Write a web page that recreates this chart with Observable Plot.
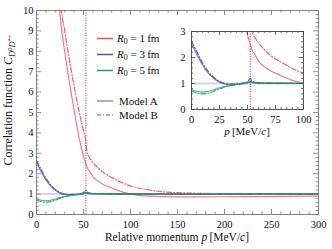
<!DOCTYPE html>
<html><head><meta charset="utf-8">
<script src="https://cdn.jsdelivr.net/npm/d3@7"></script>
<script src="https://cdn.jsdelivr.net/npm/@observablehq/plot@0.6"></script>
<style>
body{margin:0;background:#fff}
#wrap{position:relative;width:332px;height:249px;font-family:"Liberation Serif",serif}
#wrap svg{position:absolute;overflow:visible}
</style>
</head><body><div id="wrap"></div>
<script>
// ---- data ----
const threshold = 52.5;
const momentum = [0,5,10,15,20,25,30,35,40,45,48,50,52.5,54,57,60,65,70,80,90,100,120,150,200,250,300];
const r1ModelA = [80,55,35,21,13.5,9.8,8.0,6.5,5.1,3.85,3.2,2.85,2.5,2.3,2.08,1.85,1.65,1.5,1.3,1.12,1.0,0.9,0.86,0.87,0.88,0.9];
const r1ModelB = [90,60,38,23,14.5,10.6,9.0,7.6,6.3,5.1,4.5,4.1,3.6,3.0,2.75,2.55,2.3,2.1,1.82,1.58,1.4,1.2,1.07,1.02,1.0,0.99];
const r3ModelA = [2.52,2.1,1.7,1.4,1.19,1.05,0.98,0.96,0.97,0.99,1.01,1.03,1.1,1.04,1.02,1.01,1.01,1.0,1.0,1.0,1.0,1.0,1.0,1.0,1.0,1.0];
const r3ModelB = [2.62,2.2,1.78,1.46,1.23,1.08,1.0,0.98,0.99,1.01,1.04,1.07,1.2,1.1,1.05,1.03,1.02,1.02,1.01,1.0,1.0,1.0,1.0,1.0,1.0,1.0];
const r5ModelA = [0.77,0.7,0.67,0.7,0.76,0.83,0.89,0.93,0.96,0.99,1.0,1.02,1.05,1.03,1.02,1.02,1.02,1.02,1.02,1.02,1.02,1.02,1.01,1.01,1.01,1.01];
const r5ModelB = [0.72,0.63,0.6,0.63,0.7,0.79,0.87,0.92,0.96,0.99,1.01,1.03,1.08,1.04,1.03,1.02,1.02,1.02,1.02,1.01,1.01,1.01,1.01,1.01,1.01,1.01];
const radii = [1,3,5];
const radiusColors = ["#ef4f5a","#4f4fa8","#1f9f5f"];
const models = ["Model A","Model B"];
const mainXTicks = [0,50,100,150,200,250,300];
const mainYTicks = [0,1,2,3,4,5,6,7,8,9,10];
const insetXTicks = [0,25,50,75,100];
const insetYTicks = [0,1,2,3];

const seriesList = [
  {R:1, model:"A", values:r1ModelA},{R:1, model:"B", values:r1ModelB},
  {R:3, model:"A", values:r3ModelA},{R:3, model:"B", values:r3ModelB},
  {R:5, model:"A", values:r5ModelA},{R:5, model:"B", values:r5ModelB}
];
const rows = seriesList.flatMap(s => momentum.map((p,i)=>({p, C:s.values[i], R:s.R, model:s.model, key:s.R+s.model})));
const rowsA = rows.filter(d=>d.model==="A"), rowsB = rows.filter(d=>d.model==="B");

const FONT = '"Liberation Serif", serif';
const wrap = d3.select("#wrap");

function inwardTicks(xDom, yDom, xMaj, xMin, yMaj, yMin, pxW, pxH, majLen, minLen, stroke) {
  const kx = (xDom[1]-xDom[0])/pxW, ky = (yDom[1]-yDom[0])/pxH;
  const st = {stroke, strokeWidth:0.8};
  const mk = (vals, len) => [
    Plot.ruleX(vals, {x:d=>d, y1:yDom[0], y2:yDom[0]+len*ky, ...st}),
    Plot.ruleX(vals, {x:d=>d, y1:yDom[1]-len*ky, y2:yDom[1], ...st})
  ];
  const mky = (vals, len) => [
    Plot.ruleY(vals, {y:d=>d, x1:xDom[0], x2:xDom[0]+len*kx, ...st}),
    Plot.ruleY(vals, {y:d=>d, x1:xDom[1]-len*kx, x2:xDom[1], ...st})
  ];
  return [...mk(xMaj,majLen), ...mk(xMin,minLen), ...mky(yMaj,majLen), ...mky(yMin,minLen)];
}

function dataMarks() {
  return [
    Plot.ruleY([1], {stroke:"#d8d8d8", strokeWidth:2}),
    Plot.line(rowsA, {x:"p", y:"C", z:"key", stroke:"R", strokeWidth:1.2, strokeOpacity:0.75, curve:"monotone-x", clip:true}),
    Plot.line(rowsB, {x:"p", y:"C", z:"key", stroke:"R", strokeWidth:1.2, strokeOpacity:0.9, strokeDasharray:"5,2,1,2", curve:"monotone-x", clip:true}),
    Plot.ruleX([threshold], {stroke:"#e0309a", strokeWidth:1, strokeDasharray:"1.2,1.3"})
  ];
}

// ---- main plot ----
const W = 332, H = 249, mL = 36, mR = 14, mT = 10, mB = 35;
const mainXDom = [0,300], mainYDom = [0,10];
const main = Plot.plot({
  width: W, height: H,
  marginLeft: mL, marginRight: mR, marginTop: mT, marginBottom: mB,
  style: {fontFamily: FONT, fontSize: "11px", color: "#111", background: "transparent"},
  x: {domain: mainXDom, label: null},
  y: {domain: mainYDom, label: null},
  color: {domain: radii, range: radiusColors},
  marks: [
    ...dataMarks(),
    ...inwardTicks(mainXDom, mainYDom, mainXTicks, d3.range(10,300,10).filter(v=>v%50), mainYTicks, d3.range(0.2,10,0.2).map(v=>+v.toFixed(1)).filter(v=>v%1), W-mL-mR, H-mT-mB, 5, 2.6, "#777"),
    Plot.frame({stroke:"#777", strokeWidth:0.9}),
    Plot.axisX(mainXTicks, {tickSize:0, tickPadding:6, label:null, fontSize:10.5}),
    Plot.axisY(mainYTicks, {tickSize:0, tickPadding:3, label:null, fontSize:10.5})
  ]
});
d3.select(main).style("left","0px").style("top","0px");
wrap.node().appendChild(main);

const ms = d3.select(main);
// x axis title
const xt = ms.append("text").attr("x", (mL + W - mR)/2).attr("y", 241).attr("text-anchor","middle")
  .attr("font-family", FONT).attr("font-size", 11.5).attr("fill","#111");
xt.append("tspan").text("Relative momentum ");
xt.append("tspan").attr("font-style","italic").text("p");
xt.append("tspan").text("\u2009[MeV/");
xt.append("tspan").attr("font-style","italic").text("c");
xt.append("tspan").text("]");
// y axis title
const yt = ms.append("text").attr("transform","translate(12,100) rotate(-90)").attr("text-anchor","middle")
  .attr("font-family", FONT).attr("font-size", 12).attr("fill","#111");
yt.append("tspan").text("Correlation function ");
yt.append("tspan").attr("font-style","italic").text("C");
yt.append("tspan").attr("font-style","italic").attr("font-size",8.5).attr("dy",3).text("D");
yt.append("tspan").attr("font-size",6.5).attr("dy",-3.5).text("0");
yt.append("tspan").attr("font-style","italic").attr("font-size",8.5).attr("dy",3.5).text("D");
yt.append("tspan").attr("font-size",6.5).attr("dy",-3.5).text("*+");

// legend
const lg = ms.append("g").attr("font-family", FONT).attr("font-size", 11).attr("fill","#111").attr("text-anchor","start");
const legendRows = [38.5, 54.5, 70.5];
radii.forEach((r,i)=>{
  lg.append("line").attr("x1",97).attr("x2",113).attr("y1",legendRows[i]).attr("y2",legendRows[i])
    .attr("stroke",radiusColors[i]).attr("stroke-width",1.5);
  const t = lg.append("text").attr("x",117).attr("y",legendRows[i]+3.8).attr("text-anchor","start");
  t.append("tspan").attr("font-style","italic").text("R");
  t.append("tspan").attr("font-size",8).attr("dy",2).text("0");
  t.append("tspan").attr("dy",-2).text(" = " + r + "\u2009fm");
});
const modelRows = [101, 115];
models.forEach((m,i)=>{
  lg.append("line").attr("x1",97).attr("x2",113).attr("y1",modelRows[i]).attr("y2",modelRows[i])
    .attr("stroke","#999").attr("stroke-width",1.5).attr("stroke-dasharray", i ? "4,2,1,2" : null);
  lg.append("text").attr("x",119).attr("y",modelRows[i]+3.8).attr("text-anchor","start").text(m);
});

// ---- inset ----
const iLeft = 170, iTop = 24, iW = 140, iH = 118, iL = 21, iR = 7, iT = 7, iB = 33;
const insetXDom = [0,100], insetYDom = [0,3];
const inset = Plot.plot({
  width: iW, height: iH,
  marginLeft: iL, marginRight: iR, marginTop: iT, marginBottom: iB,
  style: {fontFamily: FONT, fontSize: "11px", color: "#111", background: "transparent"},
  x: {domain: insetXDom, label: null},
  y: {domain: insetYDom, label: null},
  color: {domain: radii, range: radiusColors},
  marks: [
    ...dataMarks(),
    ...inwardTicks(insetXDom, insetYDom, insetXTicks, d3.range(5,100,5).filter(v=>v%25), insetYTicks, d3.range(0.2,3,0.2).map(v=>+v.toFixed(1)).filter(v=>v%1), iW-iL-iR, iH-iT-iB, 4, 2, "#444"),
    Plot.frame({stroke:"#444", strokeWidth:0.9}),
    Plot.axisX(insetXTicks, {tickSize:0, tickPadding:6, label:null, fontSize:10.5}),
    Plot.axisY(insetYTicks, {tickSize:0, tickPadding:6, label:null, fontSize:10.5})
  ]
});
d3.select(inset).style("left", iLeft+"px").style("top", iTop+"px");
wrap.node().appendChild(inset);
const it = d3.select(inset).append("text").attr("x", iL + (iW-iL-iR)/2).attr("y", 111).attr("text-anchor","middle")
  .attr("font-family", FONT).attr("font-size", 11).attr("fill","#111");
it.append("tspan").attr("font-style","italic").text("p");
it.append("tspan").text("\u2009[MeV/");
it.append("tspan").attr("font-style","italic").text("c");
it.append("tspan").text("]");
</script>
</body></html>
